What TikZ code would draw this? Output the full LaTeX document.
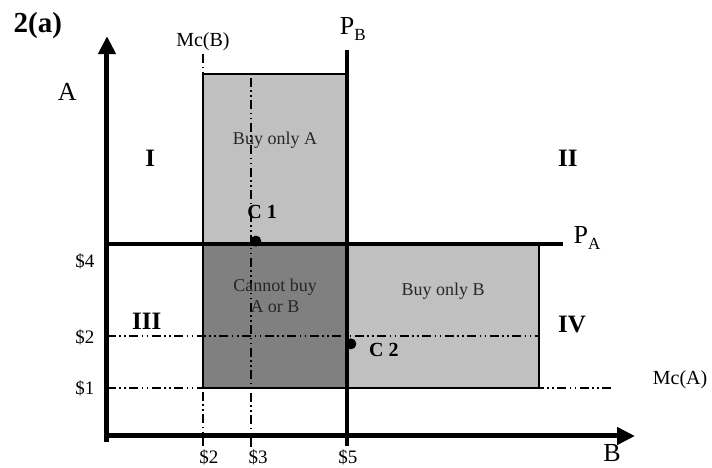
\documentclass[tikz,border=0pt]{standalone}
\usepackage{fontspec}
\setmainfont{Liberation Serif}
\usetikzlibrary{arrows.meta}
\definecolor{ink}{RGB}{0,0,0}
\definecolor{cOnly}{RGB}{192,192,192}
\definecolor{cNone}{RGB}{128,128,128}
\newcommand{\sub}[1]{\raisebox{-6pt}{\fontsize{17}{17}\selectfont #1}}

\begin{document}
\begin{tikzpicture}[
  x=48pt, y=48pt,
  axis/.style={draw=ink, line width=5pt, -{Triangle[length=18pt,width=17pt]}},
  price/.style={draw=ink, line width=3.5pt},
  mc/.style={draw=ink, line width=1.5pt, dash pattern=on 9pt off 3.5pt on 1.5pt off 3.5pt on 1.5pt off 3.5pt},
  region/.style={draw=ink, line width=1.8pt},
  big/.style={font=\fontsize{26}{28}\selectfont},
  quad/.style={font=\fontsize{25}{27}\selectfont\bfseries},
  tick/.style={font=\fontsize{19}{21}\selectfont},
  boxtxt/.style={font=\fontsize{18}{21}\selectfont, text=ink!85, align=center},
  pt/.style={circle, fill=ink, inner sep=0pt, minimum size=11pt},
]
\useasboundingbox (-2.229,-0.646) rectangle (12.604,9.083);

% ---- regions ----
\fill[cOnly] (2,4) rectangle (5,7.54);
\fill[cNone] (2,1) rectangle (5,4);
\fill[cOnly] (5,1) rectangle (9,4);
\draw[region] (2,4) -- (2,7.54) -- (5,7.54);
\draw[region] (2,4) -- (2,1) -- (9,1) -- (9,4);

% ---- marginal cost lines ----
\coordinate (mcB0) at (2,-0.2);
\coordinate (mcB1) at (2,8.0);
\coordinate (c30) at (3,-0.22);
\coordinate (c31) at (3,7.54);
\coordinate (d20) at (0,2.08);
\coordinate (d21) at (9,2.08);
\coordinate (mcA0) at (0,1);
\coordinate (mcA1) at (10.54,1);
\draw[mc] (mcB0) -- (mcB1);
\draw[mc] (c30) -- (c31);
\draw[mc] (d20) -- (d21);
\draw[mc] (mcA0) -- (mcA1);

% ---- price lines ----
\coordinate (pB0) at (5,-0.2);
\coordinate (pB1) at (5,8.04);
\coordinate (pA0) at (0,4);
\coordinate (pA1) at (9.5,4);
\draw[price] (pB0) -- (pB1);
\draw[price] (pA0) -- (pA1);

% ---- axes ----
\coordinate (O) at (0,0);
\draw[axis] (0,-0.13) -- (0,8.33);
\draw[axis] (-0.05,0) -- (11.0,0);

% ---- points ----
\node[pt] (C1) at (3.1,4.06) {};
\node[pt] (C2) at (5.08,1.92) {};
\node[font=\fontsize{20}{22}\selectfont\bfseries] (C1l) at (3.23,4.67) {C 1};
\node[font=\fontsize{20}{22}\selectfont\bfseries] (C2l) at (5.77,1.79) {C 2};

% ---- labels ----
\node[font=\fontsize{29}{31}\selectfont\bfseries] (T) at (-1.44,8.56) {2(a)};
\node[big] (yA) at (-0.83,7.17) {A};
\node[big, inner sep=0pt] (xB) at (10.52,-0.35) {B};
\node[big] (PB) at (5.12,8.47) {P\sub{B}};
\node[big] (PA) at (10.0,4.13) {P\sub{A}};
\node[tick, font=\fontsize{20}{22}\selectfont] (McB) at (2,8.21) {Mc(B)};
\node[tick, font=\fontsize{20}{22}\selectfont] (McA) at (11.94,1.17) {Mc(A)};

\node[quad] (QI) at (0.9,5.79) {I};
\node[quad] (QII) at (9.6,5.79) {II};
\node[quad] (QIII) at (0.83,2.38) {III};
\node[quad] (QIV) at (9.69,2.33) {IV};

\node[tick] (y4) at (-0.46,3.63) {\$4};
\node[tick] (y2) at (-0.46,2.06) {\$2};
\node[tick] (y1) at (-0.46,1.0) {\$1};
\node[tick] (x2) at (2.12,-0.44) {\$2};
\node[tick] (x3) at (3.15,-0.44) {\$3};
\node[tick] (x5) at (5.02,-0.44) {\$5};

\node[boxtxt] (bA) at (3.5,6.17) {Buy only A};
\node[boxtxt] (bN) at (3.5,2.92) {Cannot buy\\A or B};
\node[boxtxt] (bB) at (7.0,3.02) {Buy only B};

\end{tikzpicture}
\end{document}
